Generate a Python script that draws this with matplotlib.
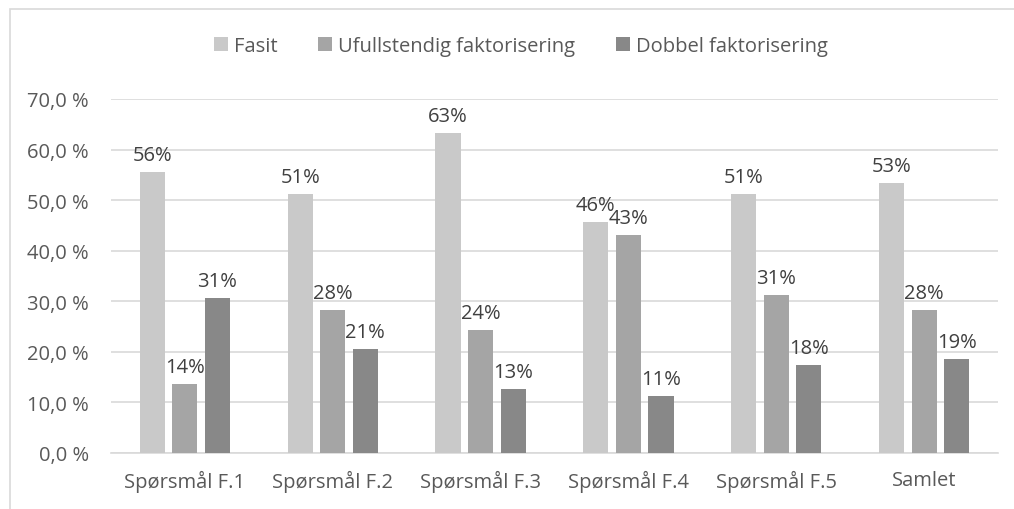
import numpy as np
import matplotlib
matplotlib.use("Agg")
import matplotlib.pyplot as plt
from matplotlib.ticker import FuncFormatter
from matplotlib.patches import Rectangle

# ===== Data =====
categories = ["Spørsmål F.1", "Spørsmål F.2", "Spørsmål F.3",
              "Spørsmål F.4", "Spørsmål F.5", "Samlet"]
fasit = [0.556, 0.512, 0.632, 0.456, 0.512, 0.534]
ufullstendig = [0.137, 0.282, 0.244, 0.431, 0.312, 0.282]
dobbel = [0.306, 0.206, 0.126, 0.113, 0.175, 0.186]

series_names = ["Fasit", "Ufullstendig faktorisering", "Dobbel faktorisering"]
colors = ["#c9c9c9", "#a5a5a5", "#888888"]
text_color = "#595959"
fs = 14.5

plt.rcParams["font.family"] = ["Open Sans", "DejaVu Sans"]

fig = plt.figure(figsize=(10.14, 5.10), dpi=100)
ax = fig.add_axes([111 / 1014, 1 - 454 / 510, (998 - 111) / 1014, (454 - 100) / 510])

x = np.arange(len(categories))
width = 0.17
step = 0.22

for i, (vals, name, col) in enumerate(zip([fasit, ufullstendig, dobbel], series_names, colors)):
    bars = ax.bar(x + (i - 1) * step, vals, width, color=col, label=name, zorder=3)
    ax.bar_label(bars, labels=[f"{v * 100:.0f}%" for v in vals],
                 padding=5, fontsize=fs, color="#404040")

ax.set_ylim(0, 0.7)
ax.set_xlim(-0.5, len(categories) - 0.5)
ax.set_yticks(np.arange(0, 0.71, 0.1))
ax.yaxis.set_major_formatter(FuncFormatter(lambda v, p: f"{v * 100:.1f} %".replace(".", ",")))
ax.set_xticks(x)
ax.set_xticklabels(categories)

ax.grid(axis="y", color="#d9d9d9", linewidth=1.2, zorder=0)
for s in ["top", "right", "left"]:
    ax.spines[s].set_visible(False)
ax.spines["bottom"].set_color("#d9d9d9")
ax.spines["bottom"].set_linewidth(1.2)
ax.tick_params(axis="both", length=0, labelsize=fs, colors=text_color)
ax.tick_params(axis="y", pad=16)
ax.tick_params(axis="x", pad=12)

leg = fig.legend(loc="center", bbox_to_anchor=(521 / 1014, 1 - 47 / 510), ncol=3,
                 frameon=False, fontsize=fs, handlelength=0.7, handleheight=0.7,
                 handletextpad=0.3, columnspacing=2.0)
for t in leg.get_texts():
    t.set_color(text_color)

# outer chart border
fig.patches.append(Rectangle((10 / 1014, -0.05), 1.1, 1 - 10 / 510 + 0.05,
                             transform=fig.transFigure, fill=False,
                             edgecolor="#d9d9d9", linewidth=1.2))

fig.savefig("out.png", dpi=100)
